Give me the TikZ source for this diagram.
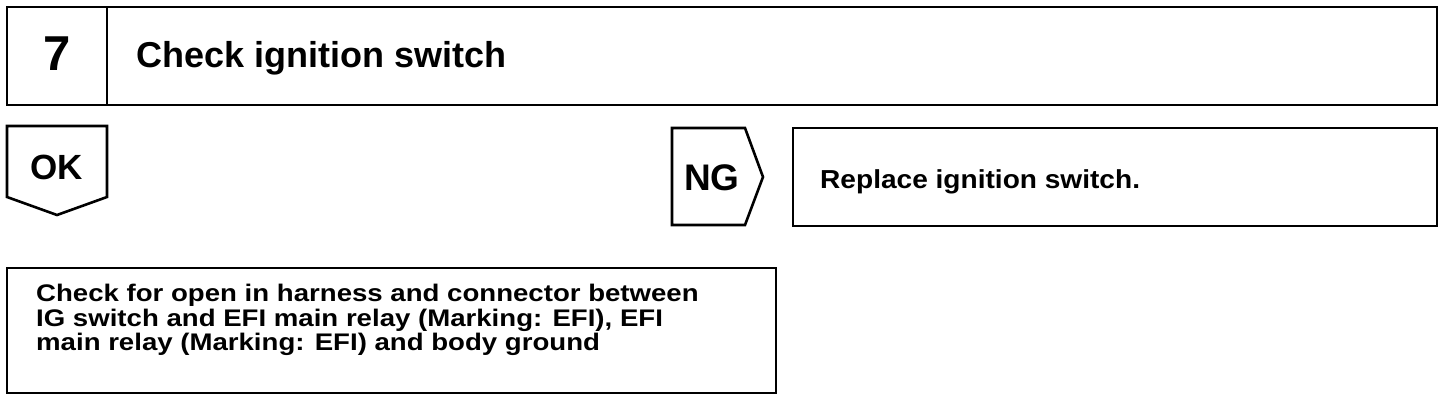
\documentclass[tikz,border=0pt]{standalone}
\usepackage{fontspec}
\setmainfont{Liberation Sans}
\newfontfamily\widefont{Liberation Sans}[FakeStretch=1.08]
\newfontfamily\widerfont{Liberation Sans}[FakeStretch=1.15]
\begin{document}
\begin{tikzpicture}[x=1pt,y=-1pt,
  box/.style={draw,line width=2.6pt,line join=miter},
  lbl/.style={inner sep=0pt,font=\bfseries}]
\useasboundingbox (0,0) rectangle (1456,402);
% header
\draw[box] (7,7) rectangle (1437,105);
\draw[box] (107,7) -- (107,105);
\node[lbl,anchor=base,font=\fontsize{49}{52}\selectfont\bfseries] (num) at (57,70) {7};
\node[lbl,anchor=base west,font=\fontsize{36}{40}\selectfont\bfseries] (title) at (136,67) {Check ignition switch};
% OK
\draw[box] (7,126) -- (107,126) -- (107,197) -- (57,215) -- (7,197) -- cycle;
\node[lbl,anchor=base,font=\fontsize{35}{38}\selectfont\bfseries] (ok) at (57,179) {OK};
% NG
\draw[box] (672,128) -- (745,128) -- (763,177) -- (745,225) -- (672,225) -- cycle;
\node[lbl,anchor=base,font=\fontsize{37}{40}\selectfont\bfseries] (ng) at (712,190) {NG};
% Replace
\draw[box] (793,128) rectangle (1437,226);
\node[lbl,anchor=base west,font=\widefont\fontsize{26}{30}\selectfont\bfseries] (repl) at (820,188) {Replace ignition switch.};
% bottom
\draw[box] (7,268) rectangle (776,393);
\node[lbl,anchor=north west,align=left,font=\widerfont\fontsize{24}{24.5}\selectfont\bfseries] (chk) at (36,284)
 {Check for open in harness and connector between\\IG switch and EFI main relay (Marking: EFI), EFI\\main relay (Marking: EFI) and body ground};
\end{tikzpicture}
\end{document}
